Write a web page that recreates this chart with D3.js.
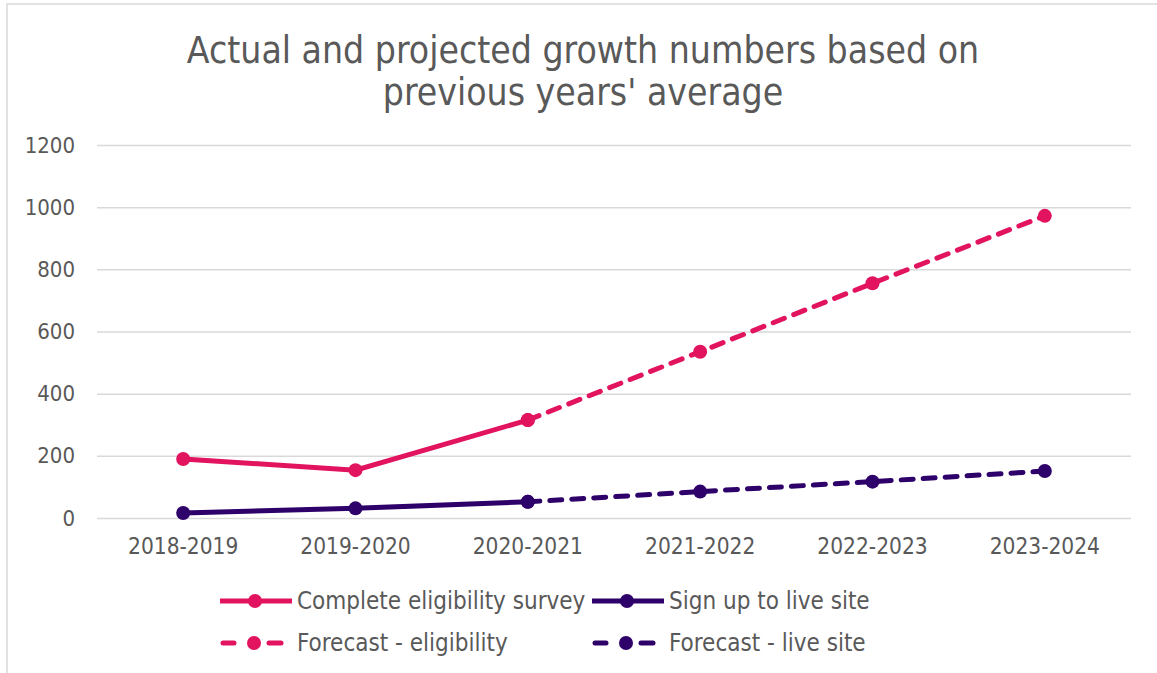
<!DOCTYPE html>
<html>
<head>
<meta charset="utf-8">
<title>Actual and projected growth numbers</title>
<script src="https://d3js.org/d3.v7.min.js"></script>
<style>
  body { margin: 0; background: #fff; }
  text { font-family: "DejaVu Sans Condensed", "Liberation Sans Narrow", sans-serif; fill: #595959; }
</style>
</head>
<body>
<svg width="1157" height="673"></svg>
<script>
// data
var years = ["2018-2019", "2019-2020", "2020-2021", "2021-2022", "2022-2023", "2023-2024"];
var eligibility = [190, 154, 315, null, null, null];
var liveSite = [16, 31, 52, null, null, null];
var forecastEligibility = [null, null, 315, 535, 755, 972];
var forecastLiveSite = [null, null, 52, 85, 117, 151];
var yTicks = [0, 200, 400, 600, 800, 1000, 1200];

var pink = "#e2135f";
var purple = "#2e0069";
var font = "\"DejaVu Sans Condensed\", \"Liberation Sans Narrow\", sans-serif";

var svg = d3.select("svg");

// chart frame
svg.append("rect")
  .attr("x", 7).attr("y", 4)
  .attr("width", 1160).attr("height", 680)
  .attr("fill", "none")
  .attr("stroke", "#d9d9d9")
  .attr("stroke-width", 1.5);

var plotLeft = 97, plotRight = 1131, plotTop = 145, plotBottom = 518;

var xs = d3.scaleBand().domain(years).range([plotLeft, plotRight]);
var ys = d3.scaleLinear().domain([0, 1200]).range([plotBottom, plotTop]);

// title
svg.append("text")
  .attr("x", 583).attr("y", 63)
  .attr("text-anchor", "middle")
  .style("font-size", "37px")
  .text("Actual and projected growth numbers based on");
svg.append("text")
  .attr("x", 583).attr("y", 105)
  .attr("text-anchor", "middle")
  .style("font-size", "37px")
  .text("previous years' average");

// grid + y labels
var yAxis = svg.append("g")
  .attr("transform", "translate(" + plotLeft + ",0)")
  .call(d3.axisLeft(ys).tickValues(yTicks).tickFormat(d3.format("d"))
    .tickSize(-(plotRight - plotLeft)).tickPadding(22));
yAxis.select(".domain").remove();
yAxis.selectAll("line").attr("stroke", "#d9d9d9").attr("stroke-width", 1.5);
yAxis.selectAll("text")
  .style("font-size", "22px")
  .style("font-family", font)
  .attr("fill", "#595959");

// x labels
var xAxis = svg.append("g")
  .attr("transform", "translate(0," + plotBottom + ")")
  .call(d3.axisBottom(xs).tickSize(0).tickPadding(20));
xAxis.select(".domain").remove();
xAxis.selectAll("text")
  .style("font-size", "22.5px")
  .style("font-family", font)
  .attr("fill", "#595959");

var cx = function(i) { return xs(years[i]) + xs.bandwidth() / 2; };

var series = [
  { name: "Complete eligibility survey", values: eligibility, color: pink, dash: null },
  { name: "Sign up to live site", values: liveSite, color: purple, dash: null },
  { name: "Forecast - eligibility", values: forecastEligibility, color: pink, dash: "12,10" },
  { name: "Forecast - live site", values: forecastLiveSite, color: purple, dash: "12,10" }
];

var line = d3.line()
  .defined(function(d) { return d != null; })
  .x(function(d, i) { return cx(i); })
  .y(function(d) { return ys(d); });

series.forEach(function(s) {
  svg.append("path")
    .datum(s.values)
    .attr("d", line)
    .attr("fill", "none")
    .attr("stroke", s.color)
    .attr("stroke-width", 5)
    .attr("stroke-linecap", "round")
    .attr("stroke-dasharray", s.dash);
  svg.append("g").selectAll("circle")
    .data(s.values.map(function(v, i) { return { v: v, i: i }; }).filter(function(d) { return d.v != null; }))
    .enter().append("circle")
    .attr("cx", function(d) { return cx(d.i); })
    .attr("cy", function(d) { return ys(d.v); })
    .attr("r", 7)
    .attr("fill", s.color);
});

// legend
var legendPos = [[220, 601], [592, 601], [220, 643], [592, 643]];
series.forEach(function(s, k) {
  var lx = legendPos[k][0], ly = legendPos[k][1];
  var g = svg.append("g").attr("transform", "translate(" + lx + "," + ly + ")");
  if (s.dash) {
    g.append("line").attr("x1", 3).attr("x2", 14).attr("y1", 0).attr("y2", 0)
      .attr("stroke", s.color).attr("stroke-width", 5).attr("stroke-linecap", "round");
    g.append("line").attr("x1", 49).attr("x2", 61).attr("y1", 0).attr("y2", 0)
      .attr("stroke", s.color).attr("stroke-width", 5).attr("stroke-linecap", "round");
    g.append("circle").attr("cx", 34).attr("cy", 0).attr("r", 7).attr("fill", s.color);
  } else {
    g.append("line").attr("x1", 0).attr("x2", 72).attr("y1", 0).attr("y2", 0)
      .attr("stroke", s.color).attr("stroke-width", 5);
    g.append("circle").attr("cx", 35).attr("cy", 0).attr("r", 7).attr("fill", s.color);
  }
  g.append("text")
    .attr("x", k == 1 || k == 3 ? 77 : 77).attr("y", 8)
    .style("font-size", "24px")
    .text(s.name);
});
</script>
</body>
</html>
